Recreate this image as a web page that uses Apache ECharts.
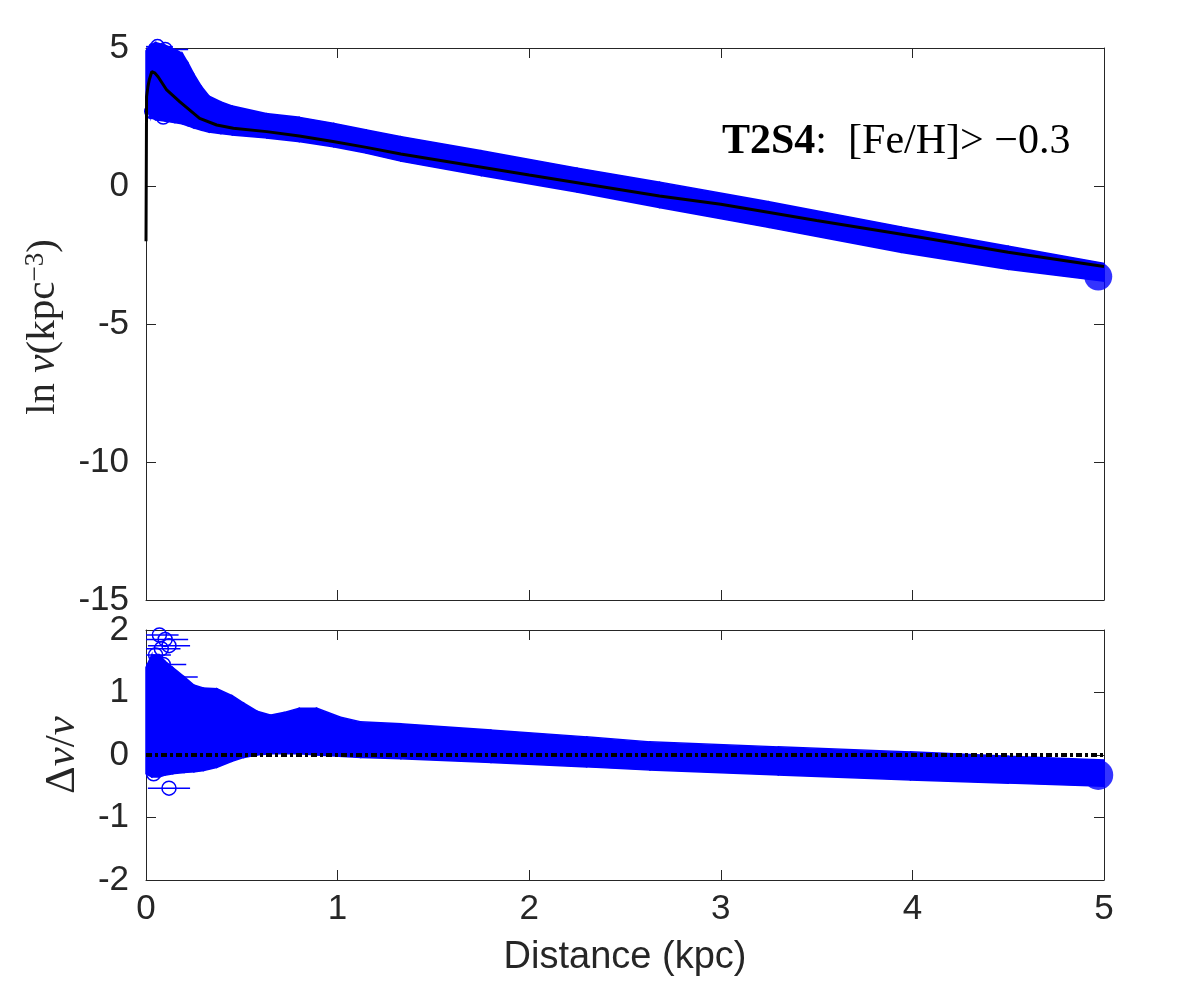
<!DOCTYPE html>
<html>
<head>
<meta charset="utf-8">
<script src="https://cdn.jsdelivr.net/npm/echarts@6/dist/echarts.min.js"></script>
<style>html,body{margin:0;padding:0;background:#fff}#c{width:1200px;height:1000px}</style>
</head>
<body>
<div id="c"></div>
<script>
// ---------- DATA ----------
// Top panel: envelope of the dense blue data cloud (ln nu)
const topBandD  = [0.00,0.02,0.05,0.10,0.15,0.19,0.22,0.25,0.29,0.33,0.39,0.45,0.63,0.80,0.98,1.15,1.33,1.75,2.25,2.68,3.25,3.94,4.50,5.00];
const topBandLo = [2.90,2.50,2.40,2.35,2.30,2.25,2.18,2.10,2.02,1.95,1.90,1.85,1.74,1.61,1.42,1.19,0.90,0.38,-0.22,-0.78,-1.50,-2.40,-3.02,-3.45];
const topBandHi = [4.90,5.10,5.20,5.10,4.95,4.80,4.45,4.05,3.60,3.25,3.05,2.90,2.62,2.49,2.27,2.03,1.79,1.28,0.65,0.14,-0.57,-1.48,-2.18,-2.80];
// Top panel: model curve
const modelD = [0.000,0.003,0.010,0.017,0.030,0.045,0.063,0.108,0.177,0.280,0.369,0.456,0.630,0.800,0.976,1.150,1.330,2.000,2.680,3.000,3.500,4.040,4.500,5.000];
const modelY = [-2.00,3.24,3.60,3.84,4.14,4.10,3.96,3.48,3.05,2.45,2.21,2.09,1.97,1.81,1.61,1.40,1.16,0.40,-0.36,-0.66,-1.25,-1.86,-2.40,-2.92];
// Top panel: isolated points with horizontal error bars
const topOutX   = [0.09,0.03,0.06,0.10];
const topOutY   = [2.50,2.70,5.05,4.95];
const topOutErr = [0.10,0.06,0.08,0.12];
const topCapX = [4.97];
const topCapY = [-3.28];

// Bottom panel: envelope of residuals (Delta nu / nu)
const botBandD  = [0.00,0.03,0.07,0.10,0.14,0.20,0.25,0.30,0.37,0.45,0.51,0.58,0.65,0.72,0.80,0.89,1.01,1.12,1.33,1.80,2.30,2.63,3.30,3.99,4.50,5.00];
const botBandLo = [-0.30,-0.35,-0.35,-0.32,-0.30,-0.28,-0.27,-0.25,-0.20,-0.10,-0.04,0.00,0.02,0.02,0.02,0.00,-0.02,-0.04,-0.06,-0.12,-0.19,-0.24,-0.32,-0.40,-0.45,-0.50];
const botBandHi = [1.40,1.60,1.60,1.50,1.40,1.25,1.12,1.07,1.06,0.95,0.83,0.70,0.64,0.68,0.75,0.75,0.61,0.53,0.50,0.40,0.29,0.21,0.13,0.05,-0.02,-0.08];
const botOutX   = [0.07,0.10,0.08,0.05,0.12,0.09,0.12,0.04,0.11];
const botOutY   = [1.92,1.85,1.70,1.60,1.75,1.45,-0.53,-0.30,1.25];
const botOutErr = [0.10,0.12,0.10,0.08,0.11,0.12,0.11,0.06,0.16];
const botCapX = [4.97];
const botCapY = [-0.32];
const zeroX = [0,5];
const zeroY = [0,0];

// tick settings
const xMin = 0, xMax = 5, xStep = 1;
const yTopMin = -15, yTopMax = 5, yTopStep = 5;
const yBotMin = -2, yBotMax = 2, yBotStep = 1;

// ---------- helpers ----------
const BLUE = '#0000ff';
const AX = '#262626';
function bandRows(d, lo, hi){
  const rows = [];
  for (let i = 0; i < d.length - 1; i++) rows.push([d[i], lo[i], hi[i], d[i+1], lo[i+1], hi[i+1]]);
  return rows;
}
function bandRender(params, api){
  const a = api.coord([api.value(0), api.value(1)]);
  const b = api.coord([api.value(0), api.value(2)]);
  const c = api.coord([api.value(3), api.value(5)]);
  const e = api.coord([api.value(3), api.value(4)]);
  return {type:'polygon', shape:{points:[a,b,c,e]}, style:{fill:BLUE, stroke:BLUE, lineWidth:1.5}};
}
function errRender(params, api){
  const x = api.value(0), y = api.value(1), err = api.value(2);
  const p = api.coord([x, y]);
  const l = api.coord([Math.max(0, x - err), y]);
  const r = api.coord([x + err, y]);
  return {type:'group', children:[
    {type:'line', shape:{x1:l[0], y1:l[1], x2:r[0], y2:r[1]}, style:{stroke:BLUE, lineWidth:1.5}},
    {type:'circle', shape:{cx:p[0], cy:p[1], r:7}, style:{fill:null, stroke:BLUE, lineWidth:1.5}}
  ]};
}
function zip(a, b){ return a.map((v, i) => [v, b[i]]); }
function zip3(a, b, c){ return a.map((v, i) => [v, b[i], c[i]]); }

function xAx(grid, pos, labels){
  return {gridIndex:grid, type:'value', min:xMin, max:xMax, interval:xStep, position:pos,
    axisLine:{show:true, onZero:false, lineStyle:{color:AX, width:1}},
    axisTick:{show:true, inside:true, length:10, lineStyle:{color:AX, width:1}},
    axisLabel:{show:labels, color:AX, fontFamily:'Liberation Sans', fontSize:35, margin:12},
    splitLine:{show:false}};
}
function yAx(grid, pos, labels, mn, mx, st){
  return {gridIndex:grid, type:'value', min:mn, max:mx, interval:st, position:pos,
    axisLine:{show:true, onZero:false, lineStyle:{color:AX, width:1}},
    axisTick:{show:true, inside:true, length:10, lineStyle:{color:AX, width:1}},
    axisLabel:{show:labels, color:AX, fontFamily:'Liberation Sans', fontSize:35, margin:17},
    splitLine:{show:false}};
}

const chart = echarts.init(document.getElementById('c'), null, {renderer:'canvas'});
const serif = 'Liberation Serif';
chart.setOption({
  animation:false,
  backgroundColor:'#fff',
  grid:[{left:146, top:48, width:958, height:552}, {left:146, top:630, width:958, height:250}],
  xAxis:[xAx(0,'bottom',false), xAx(0,'top',false), xAx(1,'bottom',true), xAx(1,'top',false)],
  yAxis:[yAx(0,'left',true,yTopMin,yTopMax,yTopStep), yAx(0,'right',false,yTopMin,yTopMax,yTopStep),
         yAx(1,'left',true,yBotMin,yBotMax,yBotStep), yAx(1,'right',false,yBotMin,yBotMax,yBotStep)],
  series:[
    {type:'custom', xAxisIndex:0, yAxisIndex:0, renderItem:bandRender, clip:false,
     encode:{x:[0,3], y:[1,2,4,5]}, data:bandRows(topBandD, topBandLo, topBandHi), z:2},
    {type:'custom', xAxisIndex:0, yAxisIndex:0, renderItem:errRender, clip:false,
     encode:{x:0, y:1}, data:zip3(topOutX, topOutY, topOutErr), z:2},
    {type:'scatter', xAxisIndex:0, yAxisIndex:0, symbol:'circle', symbolSize:28, clip:false,
     itemStyle:{color:BLUE}, data:zip(topCapX, topCapY), z:2},
    {type:'line', xAxisIndex:0, yAxisIndex:0, showSymbol:false, smooth:false,
     lineStyle:{color:'#000', width:3}, data:zip(modelD, modelY), z:5},

    {type:'custom', xAxisIndex:2, yAxisIndex:2, renderItem:bandRender, clip:false,
     encode:{x:[0,3], y:[1,2,4,5]}, data:bandRows(botBandD, botBandLo, botBandHi), z:2},
    {type:'custom', xAxisIndex:2, yAxisIndex:2, renderItem:errRender, clip:false,
     encode:{x:0, y:1}, data:zip3(botOutX, botOutY, botOutErr), z:2},
    {type:'scatter', xAxisIndex:2, yAxisIndex:2, symbol:'circle', symbolSize:30, clip:false,
     itemStyle:{color:BLUE}, data:zip(botCapX, botCapY), z:2},
    {type:'line', xAxisIndex:2, yAxisIndex:2, showSymbol:false,
     lineStyle:{color:'#000', width:4, type:[6,3,3,3]}, data:zip(zeroX, zeroY), z:5}
  ],
  graphic:[
    {type:'text', x:722, y:142, z:10, style:{
      text:'{b|T2S4}{r|:  [Fe/H]> −0.3}', textVerticalAlign:'middle',
      rich:{b:{fontFamily:serif, fontWeight:'bold', fontSize:42, fill:'#000'},
            r:{fontFamily:serif, fontSize:42, fill:'#000'}}}},
    {type:'text', x:43, y:327, rotation:Math.PI/2, z:10, style:{
      text:'{r|ln }{i|ν}{r|(kpc}{s|−3}{r|)}', textAlign:'center', textVerticalAlign:'middle',
      rich:{r:{fontFamily:serif, fontSize:41, fill:'#262626', verticalAlign:'bottom'},
            i:{fontFamily:serif, fontStyle:'italic', fontSize:41, fill:'#262626', verticalAlign:'bottom'},
            s:{fontFamily:serif, fontSize:27, fill:'#262626', verticalAlign:'top'}}}},
    {type:'text', x:63, y:755, rotation:Math.PI/2, z:10, style:{
      text:'{r|Δ}{i|ν}{r|/}{i|ν}', textAlign:'center', textVerticalAlign:'middle',
      rich:{r:{fontFamily:serif, fontSize:43, fill:'#262626'},
            i:{fontFamily:serif, fontStyle:'italic', fontSize:43, fill:'#262626'}}}},
    {type:'text', x:625, y:958, z:10, style:{
      text:'Distance (kpc)', textAlign:'center', textVerticalAlign:'middle',
      fontFamily:'Liberation Sans', fontSize:38, fill:'#262626'}}
  ]
});
</script>
</body>
</html>
